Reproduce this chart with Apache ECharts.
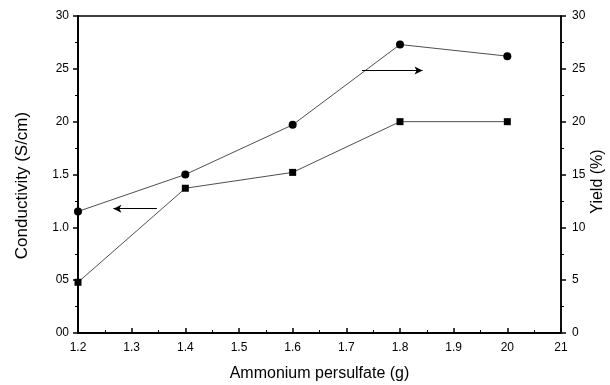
<!DOCTYPE html>
<html><head><meta charset="utf-8">
<script src="https://cdn.jsdelivr.net/npm/echarts@6/dist/echarts.min.js"></script>
<style>html,body{margin:0;padding:0;background:#fff}#c{width:610px;height:385px}</style>
</head><body><div id="c"></div>
<script>
const xValues = [1.2, 1.4, 1.6, 1.8, 2.0];
const conductivity = [0.48, 1.37, 1.52, 2.0, 2.0];
const yieldPct = [11.5, 15.0, 19.7, 27.3, 26.2];
const xTickLabels = ['1.2','1.3','1.4','1.5','1.6','1.7','1.8','1.9','20','21'];
const leftTickLabels = ['00','05','1.0','1.5','20','25','30'];
const rightTickLabels = ['0','5','10','15','20','25','30'];
const arrowLeft = [[1.347, 1.177], [1.266, 1.177]];
const arrowRight = [[1.729, 24.84], [1.842, 24.84]];

const font = 'Liberation Sans, Arial, sans-serif';
const chart = echarts.init(document.getElementById('c'));
chart.setOption({
  animation: false,
  grid: {left: 78, right: 49, top: 16, bottom: 52, show: true, borderColor: '#000', borderWidth: 1.5,
         containLabel: false, outerBoundsMode: 'none'},
  xAxis: {
    type: 'value', min: 1.2, max: 2.1, interval: 0.1,
    name: 'Ammonium persulfate (g)', nameLocation: 'middle', nameGap: 33,
    nameTextStyle: {fontFamily: font, fontSize: 16, color: '#000'},
    axisLine: {lineStyle: {color: '#000', width: 2}},
    axisTick: {inside: true, length: 5, lineStyle: {color: '#000', width: 1.5}},
    minorTick: {show: true, splitNumber: 2, length: 3, lineStyle: {color: '#000', width: 1}},
    splitLine: {show: false},
    axisLabel: {fontFamily: font, fontSize: 12, color: '#000', margin: 9,
      formatter: v => xTickLabels[Math.round((v - 1.2) * 10)] || ''}
  },
  yAxis: [{
    type: 'value', min: 0, max: 3.0, interval: 0.5, position: 'left',
    name: 'Conductivity (S/cm)', nameLocation: 'middle', nameGap: 47, nameRotate: 90,
    nameTextStyle: {fontFamily: font, fontSize: 17, color: '#000', padding: [0, 22, 0, 0]},
    axisLine: {show: true, lineStyle: {color: '#000', width: 2}},
    axisTick: {show: true, length: 5, lineStyle: {color: '#000', width: 1.5}},
    minorTick: {show: true, splitNumber: 2, length: 3, lineStyle: {color: '#000', width: 1}},
    splitLine: {show: false},
    axisLabel: {fontFamily: font, fontSize: 12, color: '#000', margin: 9,
      formatter: v => leftTickLabels[Math.round(v * 2)] || ''}
  }, {
    type: 'value', min: 0, max: 30, interval: 5, position: 'right',
    name: 'Yield (%)', nameLocation: 'middle', nameGap: 29, nameRotate: 90, nameMoveOverlap: false,
    nameTextStyle: {fontFamily: font, fontSize: 16, color: '#000', padding: [0, 14, 0, 0]},
    axisLine: {show: true, lineStyle: {color: '#000', width: 1.5}},
    axisTick: {show: true, length: 5, lineStyle: {color: '#000', width: 1.5}},
    minorTick: {show: true, splitNumber: 2, length: 3, lineStyle: {color: '#000', width: 1}},
    splitLine: {show: false},
    axisLabel: {fontFamily: font, fontSize: 12, color: '#000', margin: 11,
      formatter: v => rightTickLabels[Math.round(v / 5)] || ''}
  }],
  series: [{
    type: 'line', yAxisIndex: 0,
    data: xValues.map((x, i) => [x, conductivity[i]]),
    symbol: 'rect', symbolSize: 7,
    itemStyle: {color: '#000'},
    lineStyle: {color: '#222', width: 0.8},
    markLine: {
      silent: true, symbol: ['none', 'arrow'], symbolSize: [6, 8],
      label: {show: false},
      lineStyle: {color: '#000', width: 1, type: 'solid'},
      data: [[{coord: arrowLeft[0]}, {coord: arrowLeft[1]}]]
    }
  }, {
    type: 'line', yAxisIndex: 1,
    data: xValues.map((x, i) => [x, yieldPct[i]]),
    symbol: 'circle', symbolSize: 8,
    itemStyle: {color: '#000'},
    lineStyle: {color: '#222', width: 0.8},
    markLine: {
      silent: true, symbol: ['none', 'arrow'], symbolSize: [6, 8],
      label: {show: false},
      lineStyle: {color: '#000', width: 1, type: 'solid'},
      data: [[{coord: arrowRight[0]}, {coord: arrowRight[1]}]]
    }
  }]
});
</script></body></html>
